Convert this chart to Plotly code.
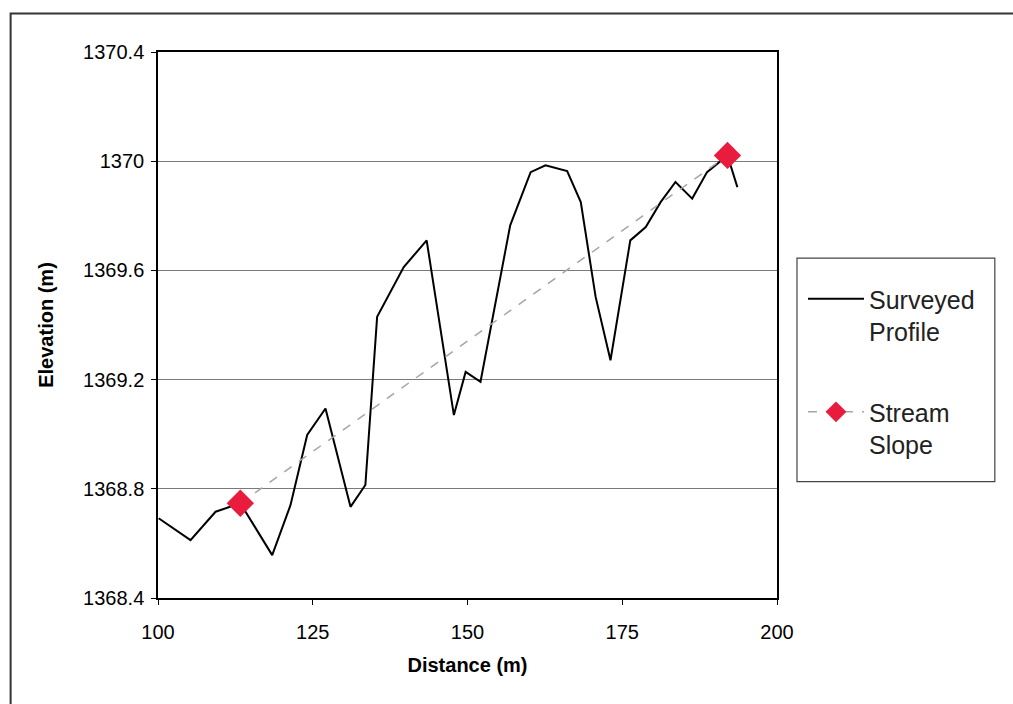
import plotly.graph_objects as go

distance = [100.1, 105.25, 109.3, 113.3, 118.45, 121.4, 124.1, 127.06, 131.1, 133.5,
            135.4, 139.7, 143.4, 147.8, 149.7, 152.1, 156.9, 160.2, 162.6, 166.1,
            168.3, 170.7, 173.1, 176.3, 178.8, 181.2, 183.6, 186.3, 188.7, 192.0, 193.6]
elevation = [1368.692, 1368.612, 1368.716, 1368.747, 1368.557, 1368.740, 1368.997, 1369.094,
             1368.734, 1368.814, 1369.43, 1369.612, 1369.71, 1369.07, 1369.228, 1369.192,
             1369.765, 1369.96, 1369.985, 1369.964, 1369.85, 1369.503, 1369.271, 1369.71,
             1369.759, 1369.85, 1369.924, 1369.863, 1369.96, 1370.021, 1369.905]

slope_x = [113.3, 192.0]
slope_y = [1368.747, 1370.021]

x_ticks = [100, 125, 150, 175, 200]
y_ticks = [1368.4, 1368.8, 1369.2, 1369.6, 1370, 1370.4]
y_tick_labels = ["1368.4", "1368.8", "1369.2", "1369.6", "1370", "1370.4"]

font_family = "Liberation Sans, Arial, sans-serif"

fig = go.Figure()
fig.add_trace(go.Scatter(
    x=distance, y=elevation, mode="lines", name="Surveyed<br>Profile",
    line=dict(color="black", width=2), legendgroup="a"))
fig.add_trace(go.Scatter(
    x=slope_x, y=slope_y, mode="lines+markers", name="Stream<br>Slope",
    line=dict(color="#b0a0a4", width=1.5, dash="dash"),
    marker=dict(symbol="diamond", size=21, color="#ea1c3e"), legendgroup="b"))

W, H = 1013, 704
ml, mr, mt, mb = 157.5, 236, 51.5, 105.5
pw, ph = W - ml - mr, H - mt - mb

def px2paper_x(px):
    return (px - ml) / pw

def px2paper_y(py):
    return (H - mb - py) / ph

fig.add_shape(type="rect", xref="paper", yref="paper",
              x0=px2paper_x(10), x1=px2paper_x(1030),
              y0=px2paper_y(720), y1=px2paper_y(13),
              line=dict(color="#333333", width=2), layer="below")
# legend frame
fig.add_shape(type="rect", xref="paper", yref="paper",
              x0=px2paper_x(797), x1=px2paper_x(995),
              y0=px2paper_y(482), y1=px2paper_y(258),
              line=dict(color="#444444", width=1.2), layer="below")

fig.update_layout(
    width=W, height=H,
    margin=dict(l=ml, r=mr, t=mt, b=mb),
    paper_bgcolor="white", plot_bgcolor="white",
    font=dict(family=font_family, color="black", size=16),
    showlegend=True,
    legend=dict(
        x=px2paper_x(803), y=px2paper_y(276), xanchor="left", yanchor="top",
        borderwidth=0, bgcolor="rgba(0,0,0,0)",
        font=dict(size=25, family=font_family, color="#222222"),
        traceorder="grouped", tracegroupgap=45,
        itemwidth=56, valign="top",
    ),
    xaxis=dict(
        range=[100, 200], tickvals=x_ticks, ticks="outside", ticklen=5,
        tickcolor="black", showline=True, linecolor="black", linewidth=1.5, mirror=True,
        showgrid=False, zeroline=False, ticklabelstandoff=10,
        title=dict(text="<b>Distance (m)</b>", font=dict(size=20), standoff=16),
        tickfont=dict(size=20),
    ),
    yaxis=dict(
        range=[1368.4, 1370.4], tickvals=y_ticks, ticktext=y_tick_labels,
        ticks="outside", ticklen=5, tickcolor="black",
        showline=True, linecolor="black", linewidth=1.5, mirror=True,
        showgrid=True, gridcolor="#7a7a7a", gridwidth=1.3, zeroline=False,
        ticklabelstandoff=3,
        title=dict(text="<b>Elevation (m)</b>", font=dict(size=20), standoff=24),
        tickfont=dict(size=20),
    ),
)

fig.write_html("out.html")
